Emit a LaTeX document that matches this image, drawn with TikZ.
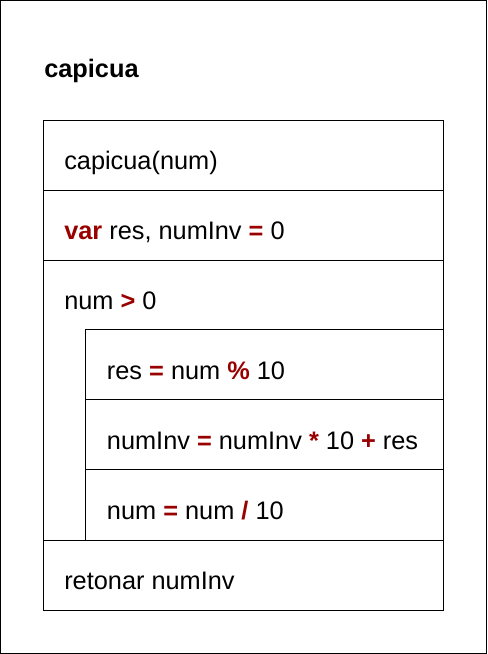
\documentclass[tikz,border=0pt]{standalone}
\usepackage{fontspec}
\setmainfont{Liberation Sans}
\definecolor{kw}{RGB}{153,0,0}
\newcommand{\kwd}[1]{\textcolor{kw}{\textbf{#1}}}
\begin{document}
\begin{tikzpicture}[x=0.75pt,y=-0.75pt,
  frame/.style={draw=black,line width=0.75pt},
  txt/.style={anchor=base west,inner sep=0pt,font=\fontsize{19}{23}\selectfont}]
\useasboundingbox (0,0) rectangle (487,654);
\draw[frame] (0.5,0.5) rectangle (486,653.3);
\node[txt,font=\fontsize{19}{23}\selectfont\bfseries] (title) at (44,77) {capicua};
% rows
\draw[frame] (43.3,120) rectangle (443.3,190);
\draw[frame] (43.3,190) rectangle (443.3,260);
\draw[frame] (43.3,260) rectangle (443.3,540);
\draw[frame] (85,329.3) rectangle (443.3,399.3);
\draw[frame] (85,399.3) rectangle (443.3,469.3);
\draw[frame] (85,469.3) rectangle (443.3,540);
\draw[frame] (43.3,540) rectangle (443.3,610);
% texts
\node[txt] (t1) at (64,169.5) {capicua(num)};
\node[txt] (t2) at (64,239) {\kwd{var} res, numInv \kwd{=} 0};
\node[txt] (t3) at (64,309.3) {num \kwd{>} 0};
\node[txt] (t4) at (106.7,379.3) {res \kwd{=} num \kwd{\%} 10};
\node[txt] (t5) at (106.7,449.3) {numInv \kwd{=} numInv \kwd{*} 10 \kwd{+} res};
\node[txt] (t6) at (106.7,519.3) {num \kwd{=} num \kwd{/} 10};
\node[txt] (t7) at (64,589.5) {retonar numInv};
\end{tikzpicture}
\end{document}
